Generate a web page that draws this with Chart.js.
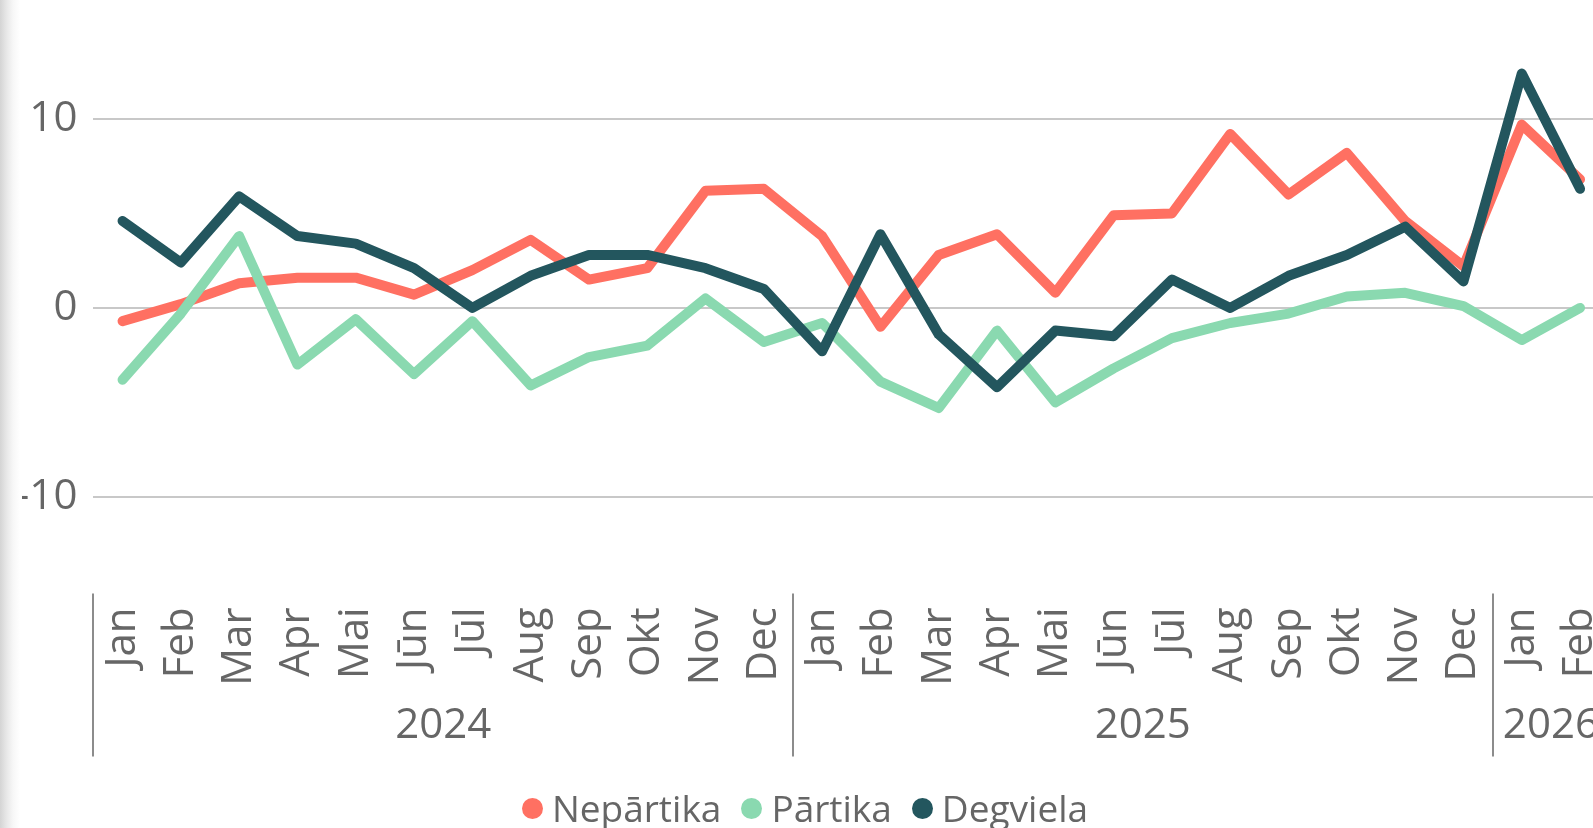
<!DOCTYPE html>
<html>
<head>
<meta charset="utf-8">
<script src="https://cdn.jsdelivr.net/npm/chart.js@4.4.1/dist/chart.umd.min.js"></script>
<style>
  html, body { margin: 0; padding: 0; background: #ffffff; overflow: hidden; width: 1593px; height: 828px; }
  #wrap { position: relative; width: 1593px; height: 828px; overflow: hidden; background: #ffffff; }
  #c { position: absolute; left: 0; top: 0; }
  #shadow { position: absolute; left: 0; top: 0; width: 22px; height: 828px; pointer-events: none;
            background: linear-gradient(to right, #d4d4d4 0px, #e6e6e6 6px, #f7f7f7 13px, #ffffff 20px); }
  #legend { position: absolute; left: 0; width: 1610px; top: 783px; display: flex; justify-content: center;
            font-family: 'Open Sans', sans-serif; font-size: 37px; color: #666666; line-height: 1.362; white-space: nowrap; }
  .item { display: flex; align-items: center; margin: 0 10px; }
  .dot { width: 21px; height: 21px; border-radius: 50%; margin-right: 9px; flex: none; }
</style>
</head>
<body>
<div id="wrap">
  <canvas id="c" width="1620" height="828" style="width:1620px;height:828px"></canvas>
  <div id="shadow"></div>
  <div id="legend"></div>
</div>
<script>
// ---- data ----
const months = ['Jan','Feb','Mar','Apr','Mai','Jūn','Jūl','Aug','Sep','Okt','Nov','Dec',
                'Jan','Feb','Mar','Apr','Mai','Jūn','Jūl','Aug','Sep','Okt','Nov','Dec',
                'Jan','Feb'];
const years = ['2024','2024','2024','2024','2024','2024','2024','2024','2024','2024','2024','2024',
               '2025','2025','2025','2025','2025','2025','2025','2025','2025','2025','2025','2025',
               '2026','2026'];
const seriesNames = ['Nepārtika', 'Pārtika', 'Degviela'];
const nepartika = [-0.7, 0.2, 1.3, 1.6, 1.6, 0.7, 2.0, 3.6, 1.5, 2.1, 6.2, 6.3,
                   3.8, -1.0, 2.8, 3.9, 0.8, 4.9, 5.0, 9.2, 6.0, 8.2, 4.6, 2.2,
                   9.7, 6.8];
const partika = [-3.8, -0.3, 3.8, -3.0, -0.6, -3.5, -0.7, -4.1, -2.6, -2.0, 0.5, -1.8,
                 -0.8, -3.9, -5.3, -1.2, -5.0, -3.2, -1.6, -0.8, -0.3, 0.6, 0.8, 0.1,
                 -1.7, 0.0];
const degviela = [4.6, 2.4, 5.9, 3.8, 3.4, 2.1, 0.0, 1.7, 2.8, 2.8, 2.1, 1.0,
                  -2.3, 3.9, -1.4, -4.2, -1.2, -1.5, 1.5, 0.0, 1.7, 2.8, 4.3, 1.4,
                  12.4, 6.3];
const yTicks = [-10, 0, 10];

// ---- styles ----
const seriesColors = ['#FF7062', '#8AD9B0', '#23565E'];
const textColor = '#666666';
const FONT = "'Open Sans', sans-serif";

function buildLegend() {
  const lg = document.getElementById('legend');
  seriesNames.forEach((name, i) => {
    const it = document.createElement('div'); it.className = 'item';
    const d = document.createElement('span'); d.className = 'dot'; d.style.background = seriesColors[i];
    const t = document.createElement('span'); t.textContent = name;
    it.appendChild(d); it.appendChild(t); lg.appendChild(it);
  });
}

const yearGroupPlugin = {
  id: 'yearGroups',
  afterDraw(chart) {
    const xs = chart.scales.x, area = chart.chartArea, ctx = chart.ctx;
    const half = (xs.getPixelForValue(1) - xs.getPixelForValue(0)) / 2;
    ctx.save();
    let start = 0;
    for (let i = 1; i <= years.length; i++) {
      if (i === years.length || years[i] !== years[start]) {
        const left = xs.getPixelForValue(start) - half;
        const right = xs.getPixelForValue(i - 1) + half;
        ctx.strokeStyle = '#8c8c8c';
        ctx.lineWidth = 2;
        ctx.beginPath();
        ctx.moveTo(Math.round(left), area.bottom + 2);
        ctx.lineTo(Math.round(left), area.bottom + 165);
        ctx.stroke();
        ctx.fillStyle = textColor;
        ctx.font = "42px " + FONT;
        ctx.textAlign = 'center';
        ctx.textBaseline = 'alphabetic';
        ctx.fillText(years[start], (left + right) / 2, area.bottom + 147);
        start = i;
      }
    }
    ctx.restore();
  }
};

function draw() {
  buildLegend();
  Chart.defaults.font.family = FONT;
  Chart.defaults.color = textColor;
  const datasets = [nepartika, partika, degviela].map((arr, i) => ({
    label: seriesNames[i],
    data: arr,
    borderColor: seriesColors[i],
    backgroundColor: seriesColors[i],
    borderWidth: 10,
    borderJoinStyle: 'round',
    borderCapStyle: 'round',
    pointRadius: 0,
    pointHoverRadius: 0,
    tension: 0,
    fill: false,
    order: 2 - i
  }));
  new Chart(document.getElementById('c'), {
    type: 'line',
    data: { labels: months, datasets },
    plugins: [yearGroupPlugin],
    options: {
      responsive: false,
      animation: false,
      devicePixelRatio: 1,
      layout: { padding: { left: 0, right: 10.8, top: 24.4, bottom: 0 } },
      plugins: { legend: { display: false }, tooltip: { enabled: false } },
      scales: {
        x: {
          type: 'category',
          offset: true,
          grid: { display: false, drawTicks: false },
          border: { display: false },
          ticks: {
            autoSkip: false, maxRotation: 90, minRotation: 90, padding: 16,
            color: textColor, font: { size: 42, family: FONT, lineHeight: 1.2 }
          },
          afterFit(s) { s.height = 236.6; s.paddingLeft = 0; s.paddingRight = 0; }
        },
        y: {
          min: -15, max: 15,
          grid: { color: '#c8c8c8', lineWidth: 2, drawTicks: false },
          border: { display: false },
          ticks: { padding: 16, color: textColor, font: { size: 42, family: FONT, lineHeight: 1.0 } },
          afterBuildTicks(s) { s.ticks = yTicks.map(v => ({ value: v })); },
          afterFit(s) { s.width = 93.4; s.paddingTop = 0; s.paddingBottom = 0; }
        }
      }
    }
  });
}

if (document.fonts && document.fonts.load) {
  Promise.all([document.fonts.load("42px 'Open Sans'"), document.fonts.load("37px 'Open Sans'")])
    .then(draw, draw);
} else { draw(); }
</script>
</body>
</html>
